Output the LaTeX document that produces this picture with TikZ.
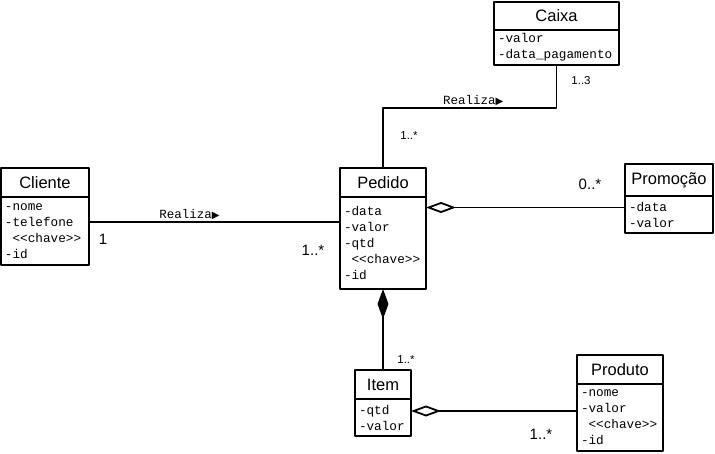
\documentclass[tikz,border=0pt]{standalone}
\usepackage{fontspec}
\setmainfont{Liberation Sans}
\newfontfamily\attrfont{Liberation Mono}
\newfontfamily\symfont{DejaVu Sans}
\usetikzlibrary{arrows.meta}
\usetikzlibrary{positioning}

\newcommand{\sentido}{{\symfont\fontsize{10}{10}\selectfont ▶}}
\newcommand{\ind}{\phantom{-}}

\begin{document}
\begin{tikzpicture}[x=1pt,y=-1pt,line cap=round,line join=round,
    classe/.style={draw,line width=1.8pt,inner sep=0pt,outer sep=0pt,anchor=north west,minimum height=29pt,font=\fontsize{16.5}{18}\selectfont},
    atributos/.style={draw,line width=1.8pt,inner xsep=4pt,inner ysep=0pt,outer sep=0pt,anchor=north west,align=left,font=\fontsize{12.7}{16}\selectfont\attrfont},
    ligacao/.style={line width=1.8pt},
    mult/.style={inner sep=0pt,font=\fontsize{15}{15}\selectfont},
    multp/.style={inner sep=0pt,font=\fontsize{11.5}{12}\selectfont},
    papel/.style={inner sep=1.5pt,font=\fontsize{12.5}{14}\selectfont\attrfont}]
    \useasboundingbox[fill=white] (0,0) rectangle (715,454);
    % classes
    \node[classe,minimum width=88pt] (cliente) at (1,168) {Cliente};
    \node[atributos,text width=80pt,minimum height=68pt] (clienteattr) at (cliente.south west) {-nome\\-telefone\\\ind{<}{<}chave{>}{>}\\-id};
    \node[classe,minimum width=86pt] (pedido) at (340,168) {Pedido};
    \node[atributos,text width=78pt,minimum height=92pt] (pedidoattr) at (pedido.south west) {-data\\-valor\\-qtd\\\ind{<}{<}chave{>}{>}\\-id};
    \node[classe,minimum width=88pt,minimum height=32pt] (promocao) at (625,164) {Promoção};
    \node[atributos,text width=80pt,minimum height=37pt] (promocaoattr) at (promocao.south west) {-data\\-valor};
    \node[classe,minimum width=125pt,minimum height=28pt] (caixa) at (494,2) {Caixa};
    \node[atributos,text width=117pt,minimum height=35pt] (caixaattr) at (caixa.south west) {-valor\\-data\_pagamento};
    \node[classe,minimum width=56pt] (item) at (355,370) {Item};
    \node[atributos,text width=48pt,minimum height=37pt] (itemattr) at (item.south west) {-qtd\\-valor};
    \node[classe,minimum width=86pt] (produto) at (577,355) {Produto};
    \node[atributos,text width=78pt,minimum height=67pt] (produtoattr) at (produto.south west) {-nome\\-valor\\\ind{<}{<}chave{>}{>}\\-id};
    % associacoes
    \draw[ligacao] ([yshift=9pt]clienteattr.east) -- node[papel,above,pos=0.4] (realiza1) {Realiza\sentido} ([yshift=9pt]clienteattr.east -| pedidoattr.west);
    \draw[ligacao] (pedido.north) -- ++(0,-60) -| node[papel,above,pos=0.26] (realiza2) {Realiza\sentido} (caixaattr.south);
    \draw[ligacao,{Diamond[open,length=30pt,width=11pt]}-] ([yshift=7pt]promocaoattr.west -| pedidoattr.east) -- ([yshift=7pt]promocaoattr.west);
    \draw[ligacao,{Diamond[length=30pt,width=11pt]}-] (pedidoattr.south) -- (item.north);
    \draw[ligacao,{Diamond[open,length=30pt,width=11pt]}-] ([yshift=6.5pt]itemattr.east) -- ([yshift=6.5pt]itemattr.east -| produtoattr.west);
    % multiplicidades
    \node[mult] (m1) at (103,239) {1};
    \node[mult] (m2) at (313,250) {1..*};
    \node[mult] (m3) at (590,184) {0..*};
    \node[mult] (m4) at (541,434) {1..*};
    \node[multp] (m5) at (581,81) {1..3};
    \node[multp] (m6) at (409,136) {1..*};
    \node[multp] (m7) at (406,360) {1..*};
\end{tikzpicture}
\end{document}
